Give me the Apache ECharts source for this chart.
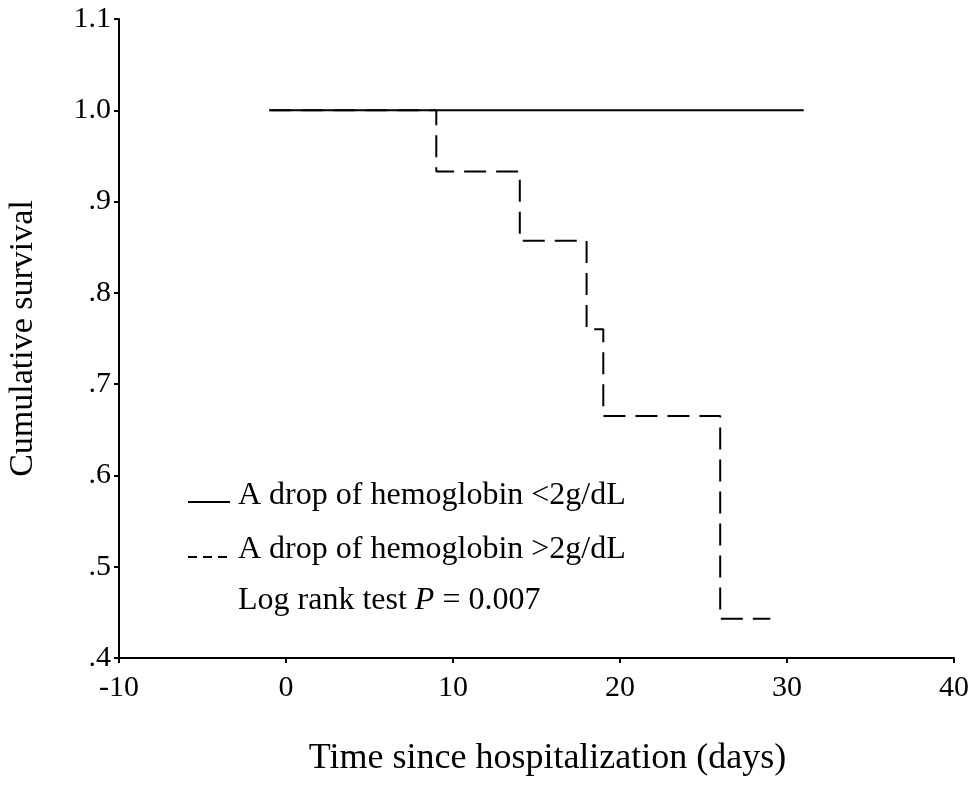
<!DOCTYPE html>
<html>
<head>
<meta charset="utf-8">
<script src="https://cdn.jsdelivr.net/npm/echarts@6/dist/echarts.min.js"></script>
<style>
  html, body { margin: 0; padding: 0; background: #fff; }
  #chart { width: 970px; height: 790px; }
</style>
</head>
<body>
<div id="chart"></div>
<script>
// Kaplan-Meier steps: [day, cumulative survival]
const lowDropDays = [-1, 31]
const lowDropSurvival = [1.0, 1.0]
const highDropDays = [-1, 9, 14, 18, 19, 26, 29]
const highDropSurvival = [1.0, 0.933, 0.857, 0.76, 0.665, 0.443, 0.443]

const seriesNames = ['A drop of hemoglobin <2g/dL', 'A drop of hemoglobin >2g/dL']
const xTitle = 'Time since hospitalization (days)'
const yTitle = 'Cumulative survival'

const FONT = "'Liberation Serif', 'Times New Roman', serif"
const INK = '#000'

const toPairs = (xs, ys) => xs.map((x, i) => [x, ys[i]])

const chart = echarts.init(document.getElementById('chart'), null, { renderer: 'canvas' })

chart.setOption({
  animation: false,
  backgroundColor: '#fff',
  // keep the plot box fixed, the big axis titles must not push it around
  grid: { left: 119, right: 16, top: 19, bottom: 132, outerBoundsMode: 'none' },
  xAxis: {
    type: 'value',
    min: -10,
    max: 40,
    interval: 10,
    name: xTitle,
    nameLocation: 'middle',
    nameGap: 83,
    nameTextStyle: { fontFamily: FONT, fontSize: 36, color: INK, padding: [0, 0, 0, 22] },
    axisLine: { onZero: false, lineStyle: { color: INK, width: 2 } },
    axisTick: { length: 5, lineStyle: { color: INK, width: 2 } },
    axisLabel: { fontFamily: FONT, fontSize: 30, color: INK, margin: 15 },
    splitLine: { show: false },
  },
  yAxis: {
    type: 'value',
    min: 0.4,
    max: 1.1,
    interval: 0.1,
    name: yTitle,
    nameLocation: 'middle',
    nameGap: 79,
    nameRotate: 90,
    nameTextStyle: { fontFamily: FONT, fontSize: 34, color: INK },
    axisLine: { onZero: false, lineStyle: { color: INK, width: 2 } },
    axisTick: { length: 5, lineStyle: { color: INK, width: 2 } },
    axisLabel: {
      fontFamily: FONT,
      fontSize: 30,
      color: INK,
      margin: 8,
      // 1.0 and 1.1 keep the zero, the rest print as .9, .8 ...
      formatter: (v) => (v >= 0.999 ? v.toFixed(1) : v.toFixed(1).replace('0.', '.')),
    },
    splitLine: { show: false },
  },
  series: [
    {
      name: seriesNames[0],
      type: 'line',
      data: toPairs(lowDropDays, lowDropSurvival),
      step: 'end',
      symbol: 'none',
      lineStyle: { color: INK, width: 2 },
      z: 3,
    },
    {
      name: seriesNames[1],
      type: 'line',
      data: toPairs(highDropDays, highDropSurvival),
      step: 'end',
      symbol: 'none',
      lineStyle: { color: INK, width: 2, type: [22, 10] },
      z: 2,
    },
  ],
  graphic: [
    {
      type: 'line',
      shape: { x1: 188, y1: 502, x2: 230, y2: 502 },
      style: { stroke: INK, lineWidth: 2 },
    },
    {
      type: 'text',
      left: 238,
      top: 480,
      style: { text: seriesNames[0], font: `32px ${FONT}`, fill: INK },
    },
    {
      type: 'line',
      shape: { x1: 188, y1: 557, x2: 230, y2: 557 },
      style: { stroke: INK, lineWidth: 2, lineDash: [9, 6] },
    },
    {
      type: 'text',
      left: 238,
      top: 534,
      style: { text: seriesNames[1], font: `32px ${FONT}`, fill: INK },
    },
    {
      type: 'text',
      left: 238,
      top: 585,
      style: {
        text: '{n|Log rank test }{i|P}{n| = 0.007}',
        rich: {
          n: { fontFamily: FONT, fontSize: 32, color: INK },
          i: { fontFamily: FONT, fontSize: 32, color: INK, fontStyle: 'italic' },
        },
      },
    },
  ],
})
</script>
</body>
</html>
